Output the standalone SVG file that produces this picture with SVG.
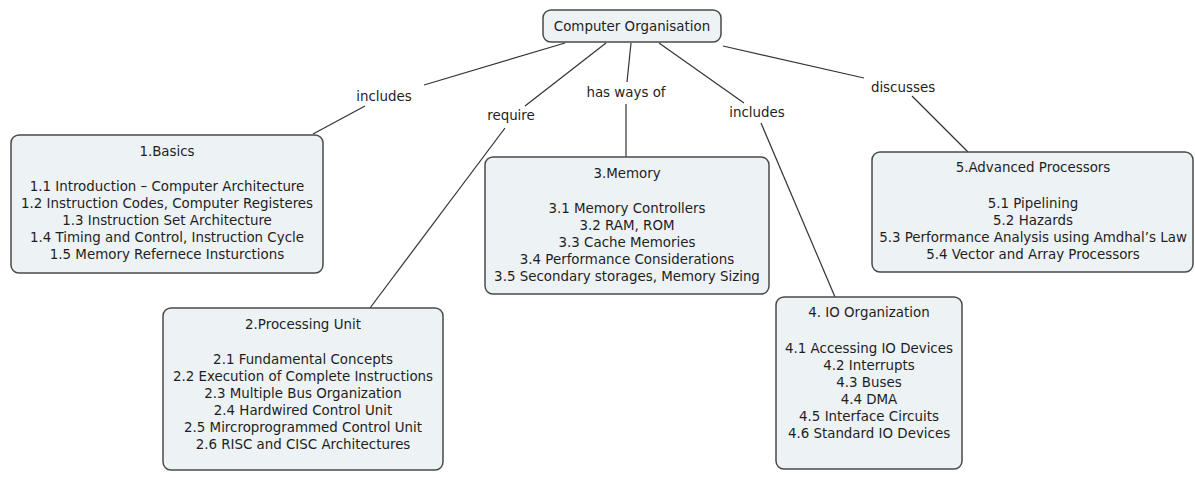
<svg xmlns="http://www.w3.org/2000/svg" width="1195" height="478" viewBox="0 0 1195 478">
  <style>
    .node rect { fill: #edf2f4; stroke: #4a4a4a; stroke-width: 1.5; }
    .node text, .label { font-family: "DejaVu Sans", Verdana, sans-serif; font-size: 13.4px; fill: #1e1e1e; text-anchor: middle; }
    .links line { stroke: #333; stroke-width: 1.2; }
  </style>
  <rect width="1195" height="478" fill="#ffffff"/>

  <!-- connectors -->
  <g id="connectors" class="links">
    <line x1="565" y1="43" x2="424" y2="85"/>
    <line x1="365" y1="106" x2="313" y2="134"/>
    <line x1="606" y1="43" x2="525" y2="106"/>
    <line x1="505" y1="128" x2="370" y2="308"/>
    <line x1="631" y1="43" x2="627" y2="82"/>
    <line x1="626" y1="104" x2="626" y2="157"/>
    <line x1="659" y1="43" x2="744" y2="103"/>
    <line x1="761" y1="123" x2="835" y2="297"/>
    <line x1="723" y1="46" x2="864" y2="78"/>
    <line x1="912" y1="96" x2="968" y2="152"/>
  </g>

  <!-- link labels -->
  <g id="labels">
    <text class="label" x="384" y="101">includes</text>
    <text class="label" x="511" y="120">require</text>
    <text class="label" x="626" y="97">has ways of</text>
    <text class="label" x="757" y="117">includes</text>
    <text class="label" x="903" y="92">discusses</text>
  </g>

  <g id="root" class="node">
    <rect x="543" y="10" width="178" height="32" rx="8"/>
    <text x="632" y="31">Computer Organisation</text>
  </g>

  <g id="basics" class="node">
    <rect x="11" y="135" width="312" height="138" rx="8"/>
    <text x="167" y="156">1.Basics</text>
    <text x="167" y="191">1.1 Introduction – Computer Architecture</text>
    <text x="167" y="208">1.2 Instruction Codes, Computer Registeres</text>
    <text x="167" y="225">1.3 Instruction Set Architecture</text>
    <text x="167" y="242">1.4 Timing and Control, Instruction Cycle</text>
    <text x="167" y="259">1.5 Memory Refernece Insturctions</text>
  </g>

  <g id="processing" class="node">
    <rect x="163" y="308" width="280" height="162" rx="8"/>
    <text x="303" y="329">2.Processing Unit</text>
    <text x="303" y="364">2.1 Fundamental Concepts</text>
    <text x="303" y="381">2.2 Execution of Complete Instructions</text>
    <text x="303" y="398">2.3 Multiple Bus Organization</text>
    <text x="303" y="415">2.4 Hardwired Control Unit</text>
    <text x="303" y="432">2.5 Mircroprogrammed Control Unit</text>
    <text x="303" y="449">2.6 RISC and CISC Architectures</text>
  </g>

  <g id="memory" class="node">
    <rect x="485" y="157" width="284" height="137" rx="8"/>
    <text x="627" y="178">3.Memory</text>
    <text x="627" y="213">3.1 Memory Controllers</text>
    <text x="627" y="230">3.2 RAM, ROM</text>
    <text x="627" y="247">3.3 Cache Memories</text>
    <text x="627" y="264">3.4 Performance Considerations</text>
    <text x="627" y="281">3.5 Secondary storages, Memory Sizing</text>
  </g>

  <g id="io" class="node">
    <rect x="776" y="297" width="186" height="172" rx="8"/>
    <text x="869" y="317">4. IO Organization</text>
    <text x="869" y="353">4.1 Accessing IO Devices</text>
    <text x="869" y="370">4.2 Interrupts</text>
    <text x="869" y="387">4.3 Buses</text>
    <text x="869" y="404">4.4 DMA</text>
    <text x="869" y="421">4.5 Interface Circuits</text>
    <text x="869" y="438">4.6 Standard IO Devices</text>
  </g>

  <g id="advanced" class="node">
    <rect x="872" y="152" width="321" height="120" rx="8"/>
    <text x="1033" y="172">5.Advanced Processors</text>
    <text x="1033" y="208">5.1 Pipelining</text>
    <text x="1033" y="225">5.2 Hazards</text>
    <text x="1033" y="242">5.3 Performance Analysis using Amdhal’s Law</text>
    <text x="1033" y="259">5.4 Vector and Array Processors</text>
  </g>
</svg>
